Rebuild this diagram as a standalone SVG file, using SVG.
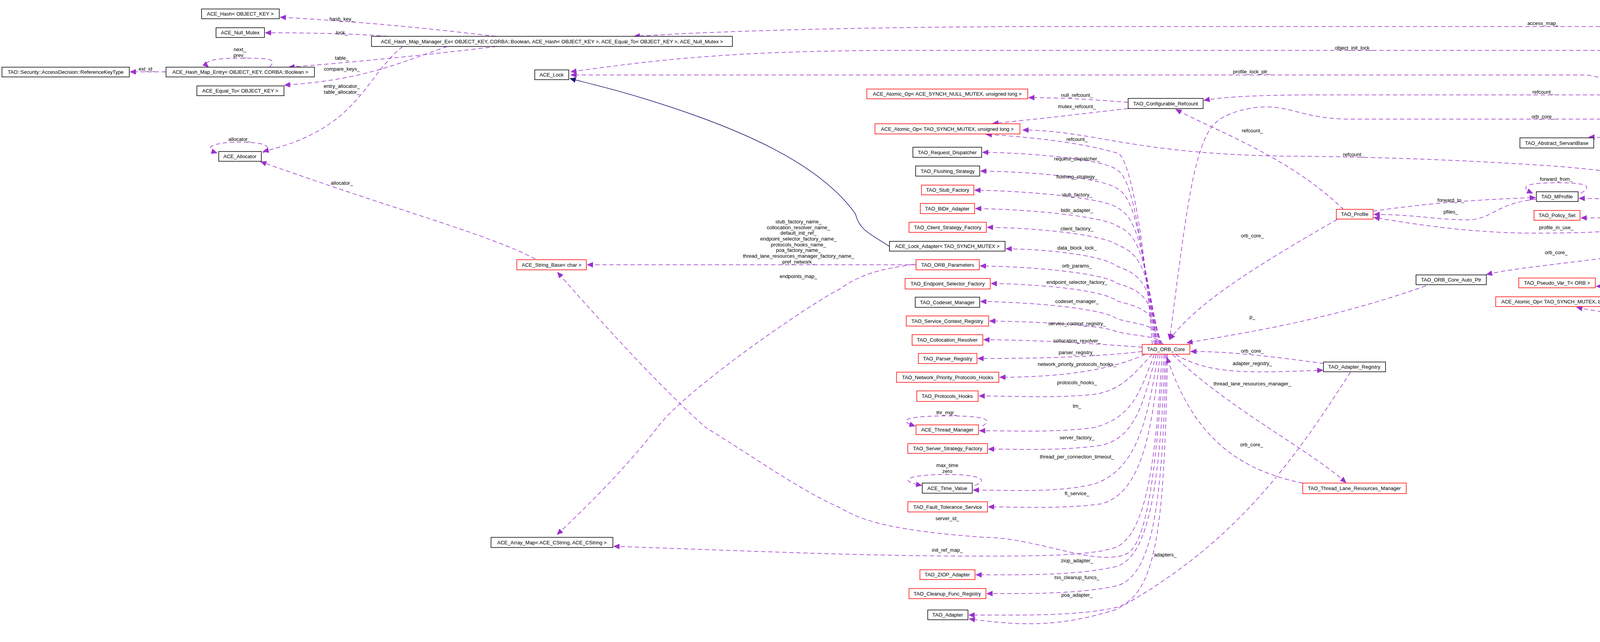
<svg xmlns="http://www.w3.org/2000/svg" width="5280" height="1644" viewBox="0 0 5280 1644">
<style>
rect{fill:#fff;stroke:#000;stroke-width:1.5}
.r rect{stroke:#f00}
.g rect{fill:#bfbfbf}
text{font-family:"Liberation Sans",Arial,sans-serif;font-size:13px;fill:#000;text-anchor:middle}
.e path{fill:none;stroke:#9a32cd;stroke-width:1.5;stroke-dasharray:11,7;marker-end:url(#pa)}
.e path.i{stroke:#191970;stroke-dasharray:none;marker-end:url(#na)}
</style>
<defs>
<marker id="pa" markerUnits="userSpaceOnUse" markerWidth="16" markerHeight="14" refX="15" refY="7" orient="auto"><path d="M0,0 L16,7 L0,14 Z" fill="#9a32cd"/></marker>
<marker id="na" markerUnits="userSpaceOnUse" markerWidth="16" markerHeight="14" refX="15" refY="7" orient="auto"><path d="M0,0 L16,7 L0,14 Z" fill="#191970"/></marker>
</defs>
<rect x="0" y="0" width="5280" height="1644" style="fill:#fff;stroke:none"/>
<g id="connectors" class="e">
<path class="i" d="M4835,20 L4786,20"/>
<path class="i" d="M5109,56 C5070,45 5030,40 5000,33"/>
<path class="i" d="M5126,82 C5070,110 5010,120 4966,136"/>
<path class="i" d="M4890,161 C4830,195 4760,210 4718,231"/>
<path class="i" d="M2277,631 C2230,600 2200,590 2190,548 C2100,420 1900,330 1657,255 C1560,225 1500,212 1459,201"/>
<path d="M5068,68 L2720,68 C2300,68 1900,76 1623,93"/>
<path d="M1270,93 C1150,80 1000,60 717,44"/>
<path d="M993,93 C900,86 800,84 679,84"/>
<path d="M1271,119 C1100,140 900,160 739,172"/>
<path d="M1145,119 C1000,170 920,205 728,218"/>
<path d="M1031,119 C930,200 920,330 673,388"/>
<path d="M425,184 L333,184"/>
<path d="M690,172 C710,150 690,149 614,149 C530,149 520,160 534,172"/>
<path d="M673,392 C700,375 680,364 613,364 C540,364 520,380 556,392"/>
<path d="M1370,663 C1250,600 1044,548 667,414"/>
<path d="M4650,231 C4550,150 4480,129 4398,129 L2330,129 C1900,129 1700,150 1461,184"/>
<path d="M4402,516 C4370,420 4300,230 4061,192 L1461,192"/>
<path d="M4663,257 C4620,350 4500,450 4404,516"/>
<path d="M4621,243 L3372,243 C3200,243 3120,250 3082,257"/>
<path d="M4633,259 C4560,290 4450,305 4415,305 L3440,305 C3330,300 3300,270 3229,274 C3150,280 3110,310 3099,329 C3050,400 3030,600 2994,870"/>
<path d="M4375,516 C4340,420 4250,352 4067,351"/>
<path d="M4345,523 C4200,520 4150,508 4042,508"/>
<path d="M4047,495 C4080,475 4060,468 3984,468 C3900,468 3890,480 3924,495"/>
<path d="M3515,541 C3650,520 3800,510 3931,506"/>
<path d="M3933,510 C3830,520 3820,563 3756,563 C3680,563 3620,549 3517,549"/>
<path d="M4352,543 C4260,560 4150,558 4047,558"/>
<path d="M4359,548 C4250,590 4100,597 3931,597 C3750,597 3600,570 3517,557"/>
<path d="M4366,515 C4330,470 4282,453 4001,427 C3700,405 3400,400 3297,400 C2900,395 2800,334 2618,333"/>
<path d="M4381,540 C4360,600 4330,620 4290,630 C4100,670 3900,680 3805,703"/>
<path d="M4385,540 C4370,620 4360,710 4250,728 C4200,735 4120,733 4086,733"/>
<path d="M4392,540 C4380,650 4360,760 4280,790 C4200,815 4100,800 4036,787"/>
<path d="M3440,537 C3300,400 3100,330 3010,280"/>
<path d="M3423,562 C3200,690 3060,780 2994,870"/>
<path d="M3650,732 C3400,820 3200,850 3038,878"/>
<path d="M3389,931 C3250,912 3150,900 3048,900"/>
<path d="M3010,908 C3100,960 3200,955 3387,948"/>
<path d="M2888,262 C2800,255 2720,250 2633,250"/>
<path d="M2888,278 C2780,290 2700,300 2640,306 C2600,310 2570,314 2541,316"/>
<path d="M2950,882 C2920,500 2880,400 2863,393 C2760,362 2620,350 2524,344"/>
<path d="M2955,882 C2920,600 2900,460 2860,435 C2830,410 2660,392 2515,390"/>
<path d="M2958,882 C2925,620 2905,505 2860,483 C2830,458 2660,440 2510,438"/>
<path d="M2960,882 C2930,640 2910,555 2860,532 C2830,508 2640,489 2495,487"/>
<path d="M2962,882 C2935,660 2915,600 2860,579 C2830,555 2640,536 2497,534"/>
<path d="M2965,882 C2940,690 2920,650 2860,627 C2830,603 2670,584 2527,582"/>
<path d="M2968,882 C2945,730 2925,705 2860,682 C2830,658 2710,639 2575,637"/>
<path d="M2970,882 C2950,770 2930,745 2860,726 C2830,700 2650,683 2509,681"/>
<path d="M2972,882 C2955,800 2935,790 2860,771 C2830,745 2680,728 2537,726"/>
<path d="M2975,882 C2960,830 2935,835 2860,817 C2830,791 2650,774 2510,772"/>
<path d="M2978,882 C2960,860 2940,865 2860,850 C2830,834 2680,824 2533,822"/>
<path d="M2924,889 C2800,880 2650,870 2518,870"/>
<path d="M2924,900 C2800,915 2650,918 2503,918"/>
<path d="M2932,907 C2860,940 2750,966 2559,966"/>
<path d="M2950,907 C2900,960 2870,1000 2800,1010 C2700,1020 2600,1014 2506,1014"/>
<path d="M2955,907 C2920,1000 2900,1070 2800,1095 C2700,1108 2600,1103 2507,1103"/>
<path d="M2960,907 C2930,1020 2910,1120 2820,1140 C2720,1155 2620,1150 2530,1150"/>
<path d="M2965,907 C2940,1050 2920,1200 2800,1240 C2700,1262 2600,1255 2491,1255"/>
<path d="M2970,907 C2950,1080 2930,1260 2820,1290 C2720,1304 2620,1298 2530,1298"/>
<path d="M2975,907 C2960,1150 2940,1360 2860,1400 C2800,1424 2650,1424 2500,1424 C2200,1424 1900,1410 1571,1399"/>
<path d="M2980,907 C2960,1180 2940,1400 2880,1420 C2800,1450 2650,1376 2520,1376 C2300,1360 2210,1337 2150,1300 C2042,1253 1900,1150 1808,1096 C1700,1000 1572,862 1427,697"/>
<path d="M2983,907 C2970,1200 2950,1420 2860,1450 C2760,1474 2620,1472 2498,1472"/>
<path d="M2986,907 C2975,1250 2960,1470 2860,1500 C2760,1522 2620,1520 2526,1520"/>
<path d="M2989,907 C2980,1300 2970,1520 2860,1555 C2760,1578 2620,1575 2480,1575"/>
<path d="M3457,953 C3300,1200 3150,1400 2857,1561 C2700,1610 2600,1600 2481,1585"/>
<path d="M3002,908 C3150,1050 3350,1150 3446,1236"/>
<path d="M3335,1237 C3150,1200 3050,1100 2987,915"/>
<path d="M2345,678 L1503,678"/>
<path d="M2338,677 C2250,690 2204,702 2150,740 C2078,775 1750,1000 1682,1096 C1600,1200 1500,1300 1426,1369"/>
<path d="M2515,1091 C2550,1070 2500,1065 2423,1065 C2330,1065 2290,1075 2343,1091"/>
<path d="M2496,1243 C2540,1225 2490,1215 2425,1215 C2330,1215 2290,1230 2360,1243"/>
</g>
<g id="labels">
<text x="3950" y="64">access_map_</text>
<text x="875" y="53">hash_key_</text>
<text x="875" y="88">lock_</text>
<text x="614" y="131">next_</text><text x="614" y="146">prev_</text>
<text x="875" y="153">table_</text>
<text x="376" y="181">ext_id_</text>
<text x="875" y="181">compare_keys_</text>
<text x="875" y="225">entry_allocator_</text><text x="875" y="240">table_allocator_</text>
<text x="613" y="361">allocator_</text>
<text x="875" y="473">allocator_</text>
<text x="3465" y="127">object_init_lock_</text>
<text x="3204" y="188">profile_lock_ptr_</text>
<text x="3950" y="240">refcount_</text>
<text x="3950" y="303">orb_core_</text>
<text x="4501" y="375">protocol_proxy_</text>
<text x="4242" y="349">collocated_servant_</text>
<text x="4240" y="484">forward_profiles_</text><text x="4240" y="499">forward_profiles_perm_</text><text x="4240" y="513">base_profiles_</text>
<text x="3984" y="463">forward_from_</text>
<text x="3714" y="517">forward_to_</text>
<text x="3714" y="547">pfiles_</text>
<text x="4242" y="545">policies_</text>
<text x="3984" y="587">profile_in_use_</text>
<text x="3465" y="400">refcount_</text>
<text x="3984" y="651">orb_core_</text>
<text x="4240" y="695">servant_orb_</text><text x="4240" y="709">orb_</text>
<text x="4240" y="755">forwarded_on_exception_</text>
<text x="3206" y="339">refcount_</text>
<text x="3206" y="608">orb_core_</text>
<text x="3206" y="816">p_</text>
<text x="3206" y="903">orb_core_</text>
<text x="3206" y="935">adapter_registry_</text>
<text x="3206" y="987">thread_lane_resources_manager_</text>
<text x="3204" y="1143">orb_core_</text>
<text x="2983" y="1425">adapters_</text>
<text x="2757" y="248">null_refcount_</text>
<text x="2757" y="277">mutex_refcount_</text>
<text x="2757" y="361">refcount_</text>
<text x="2757" y="411">request_dispatcher_</text>
<text x="2757" y="457">flushing_strategy_</text>
<text x="2757" y="503">stub_factory_</text>
<text x="2757" y="543">bidir_adapter_</text>
<text x="2757" y="590">client_factory_</text>
<text x="2757" y="639">data_block_lock_</text>
<text x="2757" y="685">orb_params_</text>
<text x="2757" y="727">endpoint_selector_factory_</text>
<text x="2757" y="776">codeset_manager_</text>
<text x="2757" y="833">service_context_registry_</text>
<text x="2757" y="877">collocation_resolver_</text>
<text x="2757" y="907">parser_registry_</text>
<text x="2757" y="937">network_priority_protocols_hooks_</text>
<text x="2757" y="984">protocols_hooks_</text>
<text x="2757" y="1044">tm_</text>
<text x="2757" y="1125">server_factory_</text>
<text x="2757" y="1174">thread_per_connection_timeout_</text>
<text x="2757" y="1268">ft_service_</text>
<text x="2757" y="1440">ziop_adapter_</text>
<text x="2757" y="1483">tss_cleanup_funcs_</text>
<text x="2757" y="1528">poa_adapter_</text>
<text x="2425" y="1332">server_id_</text>
<text x="2425" y="1413">init_ref_map_</text>
<text x="2425" y="1196">max_time</text><text x="2425" y="1211">zero</text>
<text x="2423" y="1061">thr_mgr_</text>
<text x="2044" y="572">stub_factory_name_</text>
<text x="2044" y="587">collocation_resolver_name_</text>
<text x="2044" y="601">default_init_ref_</text>
<text x="2044" y="616">endpoint_selector_factory_name_</text>
<text x="2044" y="631">protocols_hooks_name_</text>
<text x="2044" y="645">poa_factory_name_</text>
<text x="2044" y="660">thread_lane_resources_manager_factory_name_</text>
<text x="2044" y="675">pref_network_</text>
<text x="2044" y="712">endpoints_map_</text>
</g>
<g id="n_tsad" class="g"><rect x="5068" y="57" width="207" height="24"/><text x="5171" y="74">TAO::Security::AccessDecision</text></g>
<g id="n_sl2"><rect x="4835" y="7" width="181" height="26"/><text x="4925" y="25">TAO::SL2::AccessDecision</text></g>
<g id="n_secl2"><rect x="4573" y="7" width="211" height="26"/><text x="4678" y="25">SecurityLevel2::AccessDecision</text></g>
<g id="n_lobj"><rect x="4852" y="136" width="147" height="25"/><text x="4925" y="153">CORBA::LocalObject</text></g>
<g id="n_cobj"><rect x="4621" y="231" width="115" height="26"/><text x="4678" y="249">CORBA::Object</text></g>
<g id="n_hash"><rect x="516" y="23" width="199" height="25"/><text x="615" y="40">ACE_Hash&lt; OBJECT_KEY &gt;</text></g>
<g id="n_nullmutex"><rect x="553" y="71" width="124" height="25"/><text x="615" y="88">ACE_Null_Mutex</text></g>
<g id="n_hmm"><rect x="951" y="93" width="924" height="26"/><text x="1413" y="111">ACE_Hash_Map_Manager_Ex&lt; OBJECT_KEY, CORBA::Boolean, ACE_Hash&lt; OBJECT_KEY &gt;, ACE_Equal_To&lt; OBJECT_KEY &gt;, ACE_Null_Mutex &gt;</text></g>
<g id="n_rkt"><rect x="5" y="172" width="326" height="25"/><text x="168" y="189">TAO::Security::AccessDecision::ReferenceKeyType</text></g>
<g id="n_hme"><rect x="425" y="172" width="380" height="25"/><text x="615" y="189">ACE_Hash_Map_Entry&lt; OBJECT_KEY, CORBA::Boolean &gt;</text></g>
<g id="n_eq"><rect x="504" y="220" width="223" height="25"/><text x="615" y="237">ACE_Equal_To&lt; OBJECT_KEY &gt;</text></g>
<g id="n_alloc"><rect x="560" y="388" width="109" height="25"/><text x="614" y="405">ACE_Allocator</text></g>
<g id="n_lock"><rect x="1369" y="179" width="87" height="25"/><text x="1412" y="196">ACE_Lock</text></g>
<g id="n_aonull" class="r"><rect x="2219" y="228" width="412" height="25"/><text x="2425" y="245">ACE_Atomic_Op&lt; ACE_SYNCH_NULL_MUTEX, unsigned long &gt;</text></g>
<g id="n_aoul" class="r"><rect x="2240" y="317" width="371" height="26"/><text x="2425" y="335">ACE_Atomic_Op&lt; TAO_SYNCH_MUTEX, unsigned long &gt;</text></g>
<g id="n_reqd"><rect x="2337" y="377" width="176" height="26"/><text x="2425" y="395">TAO_Request_Dispatcher</text></g>
<g id="n_flush"><rect x="2344" y="425" width="164" height="26"/><text x="2426" y="443">TAO_Flushing_Strategy</text></g>
<g id="n_stubf" class="r"><rect x="2359" y="474" width="134" height="25"/><text x="2426" y="491">TAO_Stub_Factory</text></g>
<g id="n_bidir" class="r"><rect x="2356" y="521" width="139" height="26"/><text x="2425" y="539">TAO_BiDir_Adapter</text></g>
<g id="n_csf" class="r"><rect x="2327" y="569" width="198" height="26"/><text x="2426" y="587">TAO_Client_Strategy_Factory</text></g>
<g id="n_lad"><rect x="2277" y="618" width="296" height="25"/><text x="2425" y="635">ACE_Lock_Adapter&lt; TAO_SYNCH_MUTEX &gt;</text></g>
<g id="n_orbp" class="r"><rect x="2345" y="665" width="162" height="26"/><text x="2426" y="683">TAO_ORB_Parameters</text></g>
<g id="n_esf" class="r"><rect x="2317" y="713" width="218" height="27"/><text x="2426" y="731">TAO_Endpoint_Selector_Factory</text></g>
<g id="n_codeset"><rect x="2343" y="761" width="165" height="26"/><text x="2425" y="779">TAO_Codeset_Manager</text></g>
<g id="n_scr" class="r"><rect x="2320" y="809" width="211" height="26"/><text x="2425" y="827">TAO_Service_Context_Registry</text></g>
<g id="n_colres" class="r"><rect x="2335" y="857" width="181" height="27"/><text x="2425" y="875">TAO_Collocation_Resolver</text></g>
<g id="n_parser" class="r"><rect x="2351" y="905" width="150" height="26"/><text x="2426" y="923">TAO_Parser_Registry</text></g>
<g id="n_nppf" class="r"><rect x="2295" y="953" width="262" height="26"/><text x="2426" y="971">TAO_Network_Priority_Protocols_Hooks</text></g>
<g id="n_ph" class="r"><rect x="2347" y="1001" width="157" height="27"/><text x="2425" y="1019">TAO_Protocols_Hooks</text></g>
<g id="n_thrm" class="r"><rect x="2345" y="1088" width="160" height="25"/><text x="2425" y="1105">ACE_Thread_Manager</text></g>
<g id="n_ssf" class="r"><rect x="2324" y="1136" width="204" height="25"/><text x="2426" y="1153">TAO_Server_Strategy_Factory</text></g>
<g id="n_tv"><rect x="2361" y="1237" width="128" height="26"/><text x="2425" y="1255">ACE_Time_Value</text></g>
<g id="n_ft" class="r"><rect x="2324" y="1285" width="204" height="26"/><text x="2426" y="1303">TAO_Fault_Tolerance_Service</text></g>
<g id="n_ziop" class="r"><rect x="2355" y="1459" width="141" height="25"/><text x="2425" y="1476">TAO_ZIOP_Adapter</text></g>
<g id="n_cleanup" class="r"><rect x="2327" y="1507" width="197" height="26"/><text x="2425" y="1525">TAO_Cleanup_Func_Registry</text></g>
<g id="n_adapter"><rect x="2375" y="1562" width="103" height="25"/><text x="2426" y="1579">TAO_Adapter</text></g>
<g id="n_strb" class="r"><rect x="1323" y="665" width="178" height="26"/><text x="1412" y="683">ACE_String_Base&lt; char &gt;</text></g>
<g id="n_amap"><rect x="1257" y="1376" width="312" height="26"/><text x="1413" y="1394">ACE_Array_Map&lt; ACE_CString, ACE_CString &gt;</text></g>
<g id="n_cref"><rect x="2888" y="252" width="192" height="26"/><text x="2984" y="270">TAO_Configurable_Refcount</text></g>
<g id="n_core" class="r"><rect x="2924" y="882" width="122" height="25"/><text x="2985" y="899">TAO_ORB_Core</text></g>
<g id="n_areg"><rect x="3388" y="927" width="159" height="25"/><text x="3467" y="944">TAO_Adapter_Registry</text></g>
<g id="n_tlrm" class="r"><rect x="3335" y="1237" width="265" height="27"/><text x="3467" y="1255">TAO_Thread_Lane_Resources_Manager</text></g>
<g id="n_profile" class="r"><rect x="3421" y="536" width="94" height="25"/><text x="3468" y="553">TAO_Profile</text></g>
<g id="n_asb"><rect x="3891" y="353" width="189" height="26"/><text x="3985" y="371">TAO_Abstract_ServantBase</text></g>
<g id="n_mprof"><rect x="3933" y="491" width="107" height="25"/><text x="3986" y="508">TAO_MProfile</text></g>
<g id="n_pset" class="r"><rect x="3927" y="539" width="118" height="25"/><text x="3986" y="556">TAO_Policy_Set</text></g>
<g id="n_stub"><rect x="4345" y="516" width="84" height="24"/><text x="4387" y="533">TAO_Stub</text></g>
<g id="n_autoptr"><rect x="3625" y="704" width="180" height="25"/><text x="3715" y="721">TAO_ORB_Core_Auto_Ptr</text></g>
<g id="n_pvar" class="r"><rect x="3888" y="712" width="196" height="25"/><text x="3986" y="729">TAO_Pseudo_Var_T&lt; ORB &gt;</text></g>
<g id="n_aobool" class="r"><rect x="3829" y="760" width="312" height="25"/><text x="3985" y="777">ACE_Atomic_Op&lt; TAO_SYNCH_MUTEX, bool &gt;</text></g>
</svg>
